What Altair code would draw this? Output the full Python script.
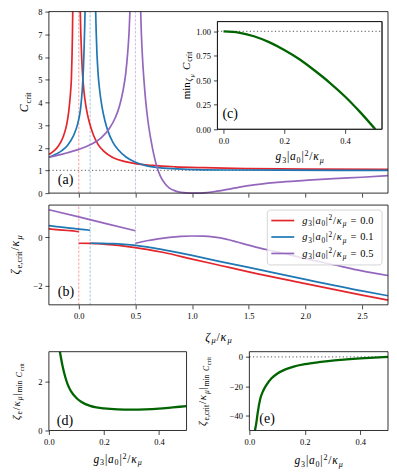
import altair as alt
import pandas as pd

FONT = "Liberation Serif, DejaVu Serif, serif"

# ---------------- data ----------------
G_LABELS = ["0.0", "0.1", "0.5"]
G_VALUES = [0.0, 0.1, 0.5]
COLORS = ["#e3262c", "#1f77b4", "#9467bd"]

# panel (a): C_crit vs zeta_mu/kappa_mu, two branches per g
A_X_DOMAIN = [-0.264, 2.73]
A_Y_DOMAIN = [0, 8]
A_X_TICKS = [0.0, 0.5, 1.0, 1.5, 2.0, 2.5]
A_Y_TICKS = [0, 1, 2, 3, 4, 5, 6, 7, 8]

A_RED_1_X = [-0.264, -0.22, -0.18, -0.14, -0.11, -0.09, -0.075, -0.065, -0.06, -0.056, -0.053]
A_RED_1_Y = [1.70, 1.86, 2.08, 2.45, 2.95, 3.55, 4.3, 5.1, 6.0, 7.0, 8.2]
A_RED_2_X = [0.012, 0.018, 0.026, 0.038, 0.055, 0.075, 0.1, 0.13, 0.17, 0.22, 0.3, 0.4, 0.5, 0.65, 0.85, 1.1, 1.5, 2.0, 2.73]
A_RED_2_Y = [8.2, 7.0, 5.9, 4.9, 4.1, 3.5, 3.0, 2.55, 2.15, 1.85, 1.57, 1.4, 1.3, 1.22, 1.16, 1.12, 1.08, 1.06, 1.05]
A_BLUE_1_X = [-0.264, -0.2, -0.15, -0.1, -0.05, -0.01, 0.015, 0.03, 0.04, 0.047, 0.052, 0.056]
A_BLUE_1_Y = [1.58, 1.72, 1.87, 2.1, 2.5, 3.05, 3.7, 4.5, 5.4, 6.4, 7.3, 8.2]
A_BLUE_2_X = [0.148, 0.153, 0.16, 0.17, 0.185, 0.205, 0.23, 0.26, 0.3, 0.35, 0.42, 0.5, 0.6, 0.75, 0.95, 1.3, 1.8, 2.73]
A_BLUE_2_Y = [8.2, 7.2, 6.2, 5.3, 4.5, 3.8, 3.2, 2.7, 2.25, 1.9, 1.58, 1.36, 1.2, 1.1, 1.05, 1.02, 1.01, 1.0]
A_PURP_1_X = [-0.264, -0.2, -0.1, 0.0, 0.1, 0.2, 0.27, 0.32, 0.36, 0.39, 0.415, 0.432, 0.445, 0.453]
A_PURP_1_Y = [1.58, 1.65, 1.78, 1.93, 2.13, 2.45, 2.85, 3.3, 3.85, 4.5, 5.3, 6.2, 7.2, 8.2]
A_PURP_2_X = [0.545, 0.552, 0.562, 0.575, 0.59, 0.61, 0.635, 0.66, 0.69, 0.72, 0.76, 0.8, 0.85, 0.9, 0.95, 1.0, 1.05, 1.1, 1.2, 1.35, 1.5, 1.75, 2.0, 2.25, 2.5, 2.73]
A_PURP_2_Y = [8.2, 7.1, 6.0, 5.0, 4.1, 3.2, 2.4, 1.75, 1.15, 0.75, 0.42, 0.22, 0.1, 0.04, 0.01, 0.0, 0.0, 0.01, 0.07, 0.2, 0.33, 0.47, 0.56, 0.64, 0.7, 0.77]

# panel (b): zeta_e,crit vs zeta_mu, two branches per g
B_Y_DOMAIN = [-2.77, 1.31]
B_Y_TICKS = [-2, 0]
B_RED_1_X = [-0.264, -0.2, -0.1, -0.03, 0.0]
B_RED_1_Y = [0.34, 0.31, 0.27, 0.24, 0.22]
B_RED_2_X = [0.0, 0.1, 0.2, 0.3, 0.4, 0.5, 0.6, 0.75, 1.0, 1.25, 1.5, 2.0, 2.5, 2.73]
B_RED_2_Y = [-0.25, -0.26, -0.28, -0.32, -0.37, -0.43, -0.5, -0.63, -0.9, -1.16, -1.42, -1.9, -2.37, -2.58]
B_BLUE_1_X = [-0.264, -0.2, -0.1, 0.0, 0.1]
B_BLUE_1_Y = [0.47, 0.43, 0.38, 0.33, 0.28]
B_BLUE_2_X = [0.1, 0.2, 0.3, 0.4, 0.5, 0.6, 0.75, 1.0, 1.25, 1.5, 2.0, 2.5, 2.73]
B_BLUE_2_Y = [-0.25, -0.255, -0.27, -0.3, -0.34, -0.4, -0.52, -0.75, -1.0, -1.24, -1.73, -2.2, -2.4]
B_PURP_1_X = [-0.264, 0.0, 0.25, 0.5]
B_PURP_1_Y = [1.12, 0.83, 0.54, 0.26]
B_PURP_2_X = [0.5, 0.6, 0.7, 0.8, 0.9, 1.0, 1.1, 1.2, 1.3, 1.4, 1.5, 1.6, 1.75, 2.0, 2.25, 2.5, 2.73]
B_PURP_2_Y = [-0.25, -0.15, -0.07, -0.01, 0.03, 0.045, 0.04, 0.0, -0.08, -0.2, -0.33, -0.45, -0.6, -0.88, -1.13, -1.38, -1.57]

# panel (c): min C_crit vs g3|a0|^2/kappa_mu
C_X_DOMAIN = [-0.02, 0.522]
C_Y_DOMAIN = [0, 1.1]
C_X_TICKS = [0.0, 0.2, 0.4]
C_Y_TICKS = [0.0, 0.25, 0.5, 0.75, 1.0]
C_X = [0.0, 0.05, 0.1, 0.15, 0.2, 0.25, 0.3, 0.35, 0.4, 0.45, 0.5]
C_Y = [1.0, 0.988, 0.95, 0.89, 0.81, 0.715, 0.6, 0.475, 0.335, 0.175, 0.0]

# panel (d)
D_X_DOMAIN = [0, 0.5]
D_Y_DOMAIN = [0, 3.2]
D_Y_TICKS = [0, 2]
D_X = [0.04, 0.05, 0.06, 0.07, 0.08, 0.1, 0.12, 0.15, 0.2, 0.25, 0.3, 0.35, 0.4, 0.45, 0.5]
D_Y = [3.2, 2.6, 2.15, 1.82, 1.6, 1.32, 1.15, 1.0, 0.9, 0.86, 0.85, 0.86, 0.89, 0.94, 0.99]

# panel (e)
E_X_DOMAIN = [0, 0.5]
E_Y_DOMAIN = [-50, 3.5]
E_Y_TICKS = [-40, -20, 0]
E_X = [0.02, 0.025, 0.03, 0.04, 0.05, 0.06, 0.08, 0.1, 0.13, 0.16, 0.2, 0.25, 0.3, 0.35, 0.4, 0.45, 0.5]
E_Y = [-50, -45, -38, -28, -23, -19.5, -14.5, -11.5, -8.5, -6.6, -5.0, -3.6, -2.5, -1.7, -1.0, -0.45, 0.0]

# ---------------- layout (pixels, relative to the top-left of panel a) ----------------
W, H = 340, 420
BOX = {
    "a": ((0, 340), (182, 0)),
    "b": ((0, 340), (294, 194)),
    "c": ((169, 334), (118, 10)),
    "d": ((0, 138), (420, 341)),
    "e": ((201, 340), (420, 341)),
}
FRAME = "#1a1a1a"
COLSCALE = alt.Scale(domain=G_LABELS, range=COLORS)


def scales(key, xdom, ydom):
    (x0, x1), (yb, yt) = BOX[key]
    return (alt.Scale(domain=xdom, range=[x0, x1], nice=False, zero=False),
            alt.Scale(domain=ydom, range=[yb, yt], nice=False, zero=False))


def axes(key, xticks, xfmt, yticks, yfmt, xlabels=True):
    (x0, x1), (yb, yt) = BOX[key]
    common = dict(title=None, grid=False, domain=False, ticks=True, tickSize=4,
                  tickWidth=0.8, tickColor=FRAME, labelFont=FONT, labelFontSize=8.5,
                  labelColor="black", labelPadding=3, labelFlush=False, labelOverlap=False)
    ax = alt.Axis(values=xticks, format=xfmt, orient="bottom", offset=yb - H,
                  labels=xlabels, **common)
    ay = alt.Axis(values=yticks, format=yfmt, orient="left", offset=-x0, **common)
    return ax, ay


def frame(xdom, ydom, xs, ys, ax, ay, fill=None):
    df = pd.DataFrame({"x0": [xdom[0]], "x1": [xdom[1]], "y0": [ydom[0]], "y1": [ydom[1]]})
    kw = dict(stroke=FRAME, strokeWidth=0.9)
    if fill:
        m = alt.Chart(df).mark_rect(fill=fill, **kw)
    else:
        m = alt.Chart(df).mark_rect(filled=False, **kw)
    return m.encode(x=alt.X("x0:Q", scale=xs, axis=ax), x2="x1:Q",
                    y=alt.Y("y0:Q", scale=ys, axis=ay), y2="y1:Q")


def series_df(parts):
    rows = []
    for g, seg, xs_, ys_ in parts:
        for xv, yv in zip(xs_, ys_):
            rows.append({"x": xv, "y": yv, "g": g, "seg": f"{g}-{seg}"})
    return pd.DataFrame(rows)


def lines(df, xs, ys, ax, ay, width=1.7, clip=False):
    return alt.Chart(df).mark_line(strokeWidth=width, interpolate="monotone", clip=clip).encode(
        x=alt.X("x:Q", scale=xs, axis=ax), y=alt.Y("y:Q", scale=ys, axis=ay),
        color=alt.Color("g:N", scale=COLSCALE, legend=None), detail="seg:N")


def vlines(ydom, xs, ys, ax, ay):
    df = pd.DataFrame({"v": G_VALUES, "g": G_LABELS, "lo": [ydom[0]] * 3, "hi": [ydom[1]] * 3})
    return alt.Chart(df).mark_rule(strokeDash=[2.5, 1.5], strokeWidth=0.8, opacity=0.55).encode(
        x=alt.X("v:Q", scale=xs, axis=ax), y=alt.Y("lo:Q", scale=ys, axis=ay), y2="hi:Q",
        color=alt.Color("g:N", scale=COLSCALE, legend=None))


def hline(level, xdom, xs, ys, ax, ay):
    df = pd.DataFrame({"lvl": [level], "x0": [xdom[0]], "x1": [xdom[1]]})
    return alt.Chart(df).mark_rule(strokeDash=[1.2, 2.4], strokeWidth=1.3, color="#777777").encode(
        x=alt.X("x0:Q", scale=xs, axis=ax), x2="x1:Q", y=alt.Y("lvl:Q", scale=ys, axis=ay))


def green(xv, yv, xs, ys, ax, ay):
    df = pd.DataFrame({"x": xv, "y": yv})
    return alt.Chart(df).mark_line(strokeWidth=2.3, color="#006400", interpolate="monotone").encode(
        x=alt.X("x:Q", scale=xs, axis=ax), y=alt.Y("y:Q", scale=ys, axis=ay))


# ---- panel a
xa, ya = scales("a", A_X_DOMAIN, A_Y_DOMAIN)
axa, aya = axes("a", A_X_TICKS, ".1f", A_Y_TICKS, "d", xlabels=False)
dfa = series_df([
    ("0.0", 1, A_RED_1_X, A_RED_1_Y), ("0.0", 2, A_RED_2_X, A_RED_2_Y),
    ("0.1", 1, A_BLUE_1_X, A_BLUE_1_Y), ("0.1", 2, A_BLUE_2_X, A_BLUE_2_Y),
    ("0.5", 1, A_PURP_1_X, A_PURP_1_Y), ("0.5", 2, A_PURP_2_X, A_PURP_2_Y),
])
panel_a = alt.layer(
    vlines(A_Y_DOMAIN, xa, ya, axa, aya),
    hline(1.0, A_X_DOMAIN, xa, ya, axa, aya),
    lines(dfa, xa, ya, axa, aya, clip=True),
    frame(A_X_DOMAIN, A_Y_DOMAIN, xa, ya, axa, aya),
)

# ---- panel c (inset)
xc, yc = scales("c", C_X_DOMAIN, C_Y_DOMAIN)
axc, ayc = axes("c", C_X_TICKS, ".1f", C_Y_TICKS, ".2f")
panel_c = alt.layer(
    frame(C_X_DOMAIN, C_Y_DOMAIN, xc, yc, axc, ayc, fill="white"),
    hline(1.0, C_X_DOMAIN, xc, yc, axc, ayc),
    green(C_X, C_Y, xc, yc, axc, ayc),
    frame(C_X_DOMAIN, C_Y_DOMAIN, xc, yc, axc, ayc),
)

# ---- panel b
xb, yb = scales("b", A_X_DOMAIN, B_Y_DOMAIN)
axb, ayb = axes("b", A_X_TICKS, ".1f", B_Y_TICKS, "d")
dfb = series_df([
    ("0.0", 1, B_RED_1_X, B_RED_1_Y), ("0.0", 2, B_RED_2_X, B_RED_2_Y),
    ("0.1", 1, B_BLUE_1_X, B_BLUE_1_Y), ("0.1", 2, B_BLUE_2_X, B_BLUE_2_Y),
    ("0.5", 1, B_PURP_1_X, B_PURP_1_Y), ("0.5", 2, B_PURP_2_X, B_PURP_2_Y),
])
panel_b = alt.layer(
    vlines(B_Y_DOMAIN, xb, yb, axb, ayb),
    lines(dfb, xb, yb, axb, ayb),
    frame(A_X_DOMAIN, B_Y_DOMAIN, xb, yb, axb, ayb),
)

# ---- panel d
xd, yd = scales("d", D_X_DOMAIN, D_Y_DOMAIN)
axd, ayd = axes("d", C_X_TICKS, ".1f", D_Y_TICKS, "d")
panel_d = alt.layer(
    green(D_X, D_Y, xd, yd, axd, ayd),
    frame(D_X_DOMAIN, D_Y_DOMAIN, xd, yd, axd, ayd),
)

# ---- panel e
xe, ye = scales("e", E_X_DOMAIN, E_Y_DOMAIN)
axe, aye = axes("e", C_X_TICKS, ".1f", E_Y_TICKS, "d")
panel_e = alt.layer(
    hline(0.0, E_X_DOMAIN, xe, ye, axe, aye),
    green(E_X, E_Y, xe, ye, axe, aye),
    frame(E_X_DOMAIN, E_Y_DOMAIN, xe, ye, axe, aye),
)

# ---------------- rich text (titles, labels, legend) ----------------
W_REG = {" ": .25, "(": .333, ")": .333, ",": .25, ".": .25, "/": .278, "=": .564,
         "|": .2, "a": .444, "b": .5, "c": .444, "d": .5, "e": .444, "i": .278,
         "m": .778, "n": .5, "r": .333, "t": .278}
W_IT = {"C": .667, "a": .5, "g": .5, "ζ": .44, "κ": .5, "μ": .5}
LEVEL = {0: (1.0, 0.0), -1: (0.7, 0.22), 1: (0.7, -0.38), -2: (0.55, 0.38)}


def adv(text, it):
    tbl = W_IT if it else W_REG
    return sum(tbl.get(ch, 0.5) for ch in text)


def rich(segs, x, y, fs, ang=0, anchor="middle", gap=0.07):
    items, total = [], 0.0
    for text, lv, it in segs:
        s, sh = LEVEL[lv]
        items.append((text, it, s * fs, sh * fs, total))
        total += adv(text, it) * s * fs + gap * fs
    total -= gap * fs
    start = -total / 2 if anchor == "middle" else 0.0
    d, n = ((1, 0), (0, 1)) if ang == 0 else ((0, -1), (1, 0))
    rows = []
    for text, it, size, shift, off in items:
        if not text.strip():
            continue
        a = start + off
        rows.append({"t": text, "px": x + d[0] * a + n[0] * shift,
                     "py": y + d[1] * a + n[1] * shift, "fs": size, "ang": ang, "it": int(it)})
    return rows


G3 = [("g", 0, True), ("3", -1, False), ("|", 0, False), ("a", 0, True), ("0", -1, False),
      ("|", 0, False), ("2", 1, False), ("/", 0, False), ("κ", 0, True), ("μ", -1, True)]
CCRIT = [("C", 0, True), ("crit", -1, False)]
ZE_CRIT = [("ζ", 0, True), ("e,crit", -1, False), ("/", 0, False), ("κ", 0, True), ("μ", -1, True)]
MIN_SUB = [("|", 0, False), ("min", -1, False), (" ", -1, False), ("C", -1, True), ("crit", -2, False)]

T = []
T += rich(CCRIT, -21, 91, 12, ang=270)
T += rich(ZE_CRIT, -30, 244, 12, ang=270)
T += rich([("ζ", 0, True), ("μ", -1, True), ("/", 0, False), ("κ", 0, True), ("μ", -1, True)], 170, 330, 12)
T += rich([("min", 0, False), ("ζ", -1, True), ("μ", -2, True), (" ", 0, False)] + CCRIT, 141, 64, 11, ang=270)
T += rich(G3, 251.5, 149, 11.5)
T += rich(G3, 69, 452.5, 11.5)
T += rich(G3, 270.5, 454, 11.5)
T += rich([("ζ", 0, True), ("e", -1, False), ("/", 0, False), ("κ", 0, True), ("μ", -1, True)] + MIN_SUB,
          -29, 381, 11, ang=270)
T += rich(ZE_CRIT + MIN_SUB, 158, 381, 11, ang=270)
for lab, (px, py) in zip(["(a)", "(b)", "(c)", "(d)", "(e)"],
                         [(9, 173), (9, 285.5), (174, 107), (8, 414), (211, 412.5)]):
    T += rich([(lab, 0, False)], px, py, 14, anchor="start")

LEG_ROWS = [209.5, 226, 242.5]
for lab, ly in zip(G_LABELS, LEG_ROWS):
    T += rich(G3 + [(" ", 0, False), ("=", 0, False), (" ", 0, False), (lab, 0, False)],
              254, ly + 3.5, 10.5, anchor="start")
dft = pd.DataFrame(T)


def text_layer(italic):
    return alt.Chart(dft).transform_filter(alt.datum.it == int(italic)).mark_text(
        font=FONT, fontStyle="italic" if italic else "normal", align="left",
        baseline="alphabetic", color="black").encode(
        x=alt.X("px:Q", scale=None, axis=None), y=alt.Y("py:Q", scale=None, axis=None),
        size=alt.Size("fs:Q", scale=None, legend=None), angle=alt.Angle("ang:Q", scale=None),
        text="t:N")


# legend box and samples (panel b)
leg_box = alt.Chart(pd.DataFrame({"k": [0]})).mark_rect(
    fill="white", fillOpacity=0.8, stroke="#cccccc", strokeWidth=0.8, cornerRadius=3).encode(
    x=alt.value(219), x2=alt.value(334), y=alt.value(199), y2=alt.value(254))
leg_lines = alt.Chart(pd.DataFrame({"g": G_LABELS, "ly": LEG_ROWS})).mark_rule(strokeWidth=1.7).encode(
    x=alt.value(223), x2=alt.value(246), y=alt.Y("ly:Q", scale=None, axis=None),
    color=alt.Color("g:N", scale=COLSCALE, legend=None))

chart = alt.layer(
    panel_a, panel_c, panel_b, leg_box, leg_lines, panel_d, panel_e,
    text_layer(True), text_layer(False),
).resolve_scale(x="independent", y="independent").resolve_axis(
    x="independent", y="independent"
).properties(
    width=W, height=H, autosize=alt.AutoSizeParams(type="none"),
    padding={"left": 41, "top": 3, "right": 1, "bottom": 38}, background="white"
).configure_view(strokeWidth=0)

chart.save("out.html", embed_options={"renderer": "svg", "actions": False})
